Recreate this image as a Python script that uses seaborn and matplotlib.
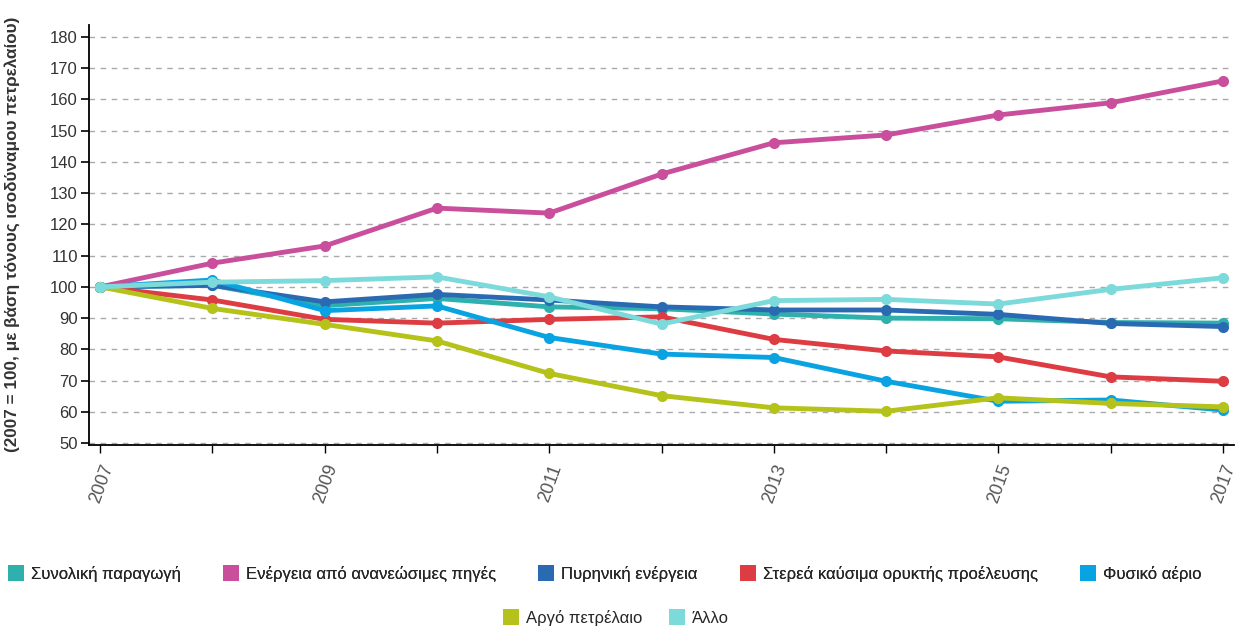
import pandas as pd
import matplotlib
matplotlib.use("Agg")
import matplotlib.pyplot as plt
import seaborn as sns
from matplotlib.lines import Line2D

sns.set_theme(style="white")
plt.rcParams['font.family'] = ['Liberation Sans', 'DejaVu Sans']

years = list(range(2007, 2018))
total = [100, 100.5, 94.0, 96.3, 93.6, 93.0, 91.3, 90.0, 89.8, 88.6, 88.4]
renewables = [100, 107.6, 113.1, 125.2, 123.6, 136.1, 146.1, 148.6, 155.0, 158.9, 165.9]
nuclear = [100, 100.5, 95.2, 97.6, 95.8, 93.6, 92.6, 92.6, 91.2, 88.3, 87.3]
solid = [100, 95.8, 89.6, 88.4, 89.6, 90.4, 83.2, 79.5, 77.6, 71.2, 69.8]
gas = [100, 102.2, 92.4, 93.9, 83.8, 78.5, 77.4, 69.8, 63.4, 63.8, 60.6]
oil = [100, 93.1, 88.0, 82.7, 72.3, 65.2, 61.3, 60.2, 64.5, 62.7, 61.6]
other = [100, 101.5, 102.0, 103.2, 96.8, 88.1, 95.6, 96.0, 94.5, 99.2, 102.9]

names = ["Συνολική παραγωγή", "Ενέργεια από ανανεώσιμες πηγές", "Πυρηνική ενέργεια",
         "Στερεά καύσιμα ορυκτής προέλευσης", "Φυσικό αέριο", "Αργό πετρέλαιο", "Άλλο"]
series = [total, renewables, nuclear, solid, gas, oil, other]
colors = ["#2eb1ad", "#c94f9c", "#2a6ab3", "#dc3c42", "#0aa3e2", "#b5c21a", "#7ddadb"]
palette = dict(zip(names, colors))

df = pd.concat([pd.DataFrame({"year": years, "value": v, "series": n})
                for n, v in zip(names, series)], ignore_index=True)

fig = plt.figure(figsize=(12.39, 6.29), dpi=100)
ax = fig.add_axes([89 / 1239, 1 - 445 / 629, (1234 - 89) / 1239, (445 - 25) / 629])

sns.lineplot(data=df, x="year", y="value", hue="series", palette=palette,
             marker="o", markersize=8, markeredgewidth=0, linewidth=3.5,
             ax=ax, legend=False)

ax.set_xlim(2006.9, 2017.1)
ax.set_ylim(49.4, 183.8)
ax.set_yticks(range(50, 190, 10))
ax.set_xticks(years)
ax.set_xticklabels([str(y) if y % 2 == 1 else "" for y in years],
                   rotation=70, ha="right", rotation_mode="anchor",
                   fontsize=13, color="#555555")
ax.tick_params(axis="y", labelsize=12, labelcolor="#333333", color="black",
               length=6, width=1.2, direction="out", left=True, pad=2)
ax.tick_params(axis="x", color="black", length=6, width=1, direction="out",
               bottom=True, pad=6)
ax.set_xlabel("")
ax.set_ylabel("")
ax.yaxis.grid(True, linestyle=(0, (4, 4)), color="#aaaaaa", linewidth=1)
ax.xaxis.grid(False)
for s in ["top", "right"]:
    ax.spines[s].set_visible(False)
for s in ["left", "bottom"]:
    ax.spines[s].set_color("black")
    ax.spines[s].set_linewidth(1.3)

fig.text(12 / 1239, 1 - 452 / 629, "(2007 = 100, με βάση τόνους ισοδύναμου πετρελαίου)",
         rotation=90, va="bottom", ha="center", fontsize=12.3, color="#333333",
         fontweight="bold")

handles = [Line2D([], [], linestyle="none", marker="s", markersize=12,
                  markerfacecolor=c, markeredgewidth=0) for c in colors]
leg1 = fig.legend(handles[:5], names[:5], loc="center", bbox_to_anchor=(0.488, 1 - 574 / 629),
                  ncol=5, frameon=False, fontsize=12, columnspacing=2.5,
                  handletextpad=0.4, handlelength=1.0)
fig.legend(handles[5:], names[5:], loc="center", bbox_to_anchor=(0.497, 1 - 618 / 629),
           ncol=2, frameon=False, fontsize=12, columnspacing=1.6,
           handletextpad=0.4, handlelength=1.0)
fig.add_artist(leg1)

fig.savefig("out.png", dpi=100)
